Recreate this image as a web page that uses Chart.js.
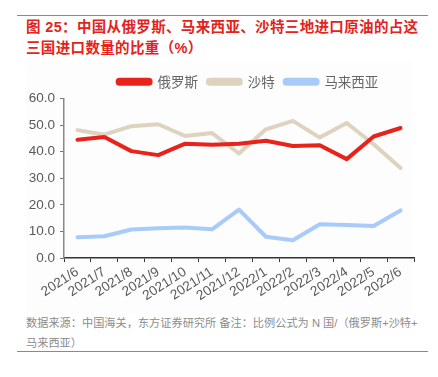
<!DOCTYPE html>
<html>
<head>
<meta charset="utf-8">
<script src="https://cdn.jsdelivr.net/npm/chart.js@4"></script>
<style>
	body { margin: 0; background: #fff; font-family: "Liberation Sans", "Noto Sans CJK SC", sans-serif; }
	#wrap { position: relative; width: 438px; height: 377px; }
	.rule { position: absolute; left: 17px; width: 411px; height: 1px; background: #E06666; }
	#title { position: absolute; left: 26px; top: 17px; width: 410px; color: #E3231C; font-size: 14.5px; font-weight: bold; line-height: 21px; letter-spacing: 0.35px; }
	#box { position: absolute; left: 25px; top: 62px; width: 388px; height: 252px; background: #FDFDFD; }
	#chartBox { position: absolute; left: 0; top: 62px; width: 438px; height: 246px; }
	#note { position: absolute; left: 26px; top: 313px; width: 405px; color: #8C8C8C; font-size: 11.2px; line-height: 20px; }
</style>
</head>
<body>
<div id="wrap">
	<div class="rule" style="top:15px"></div>
	<div id="title">图 25：中国从俄罗斯、马来西亚、沙特三地进口原油的占这<br>三国进口数量的比重（%）</div>
	<div id="box"></div>
	<div id="chartBox"><canvas id="mycanvas"></canvas></div>
	<div id="note">数据来源：中国海关，东方证券研究所 备注：比例公式为 N 国/（俄罗斯+沙特+<br>马来西亚）</div>
	<div class="rule" style="top:351px"></div>
</div>
<script>
var months = ['2021/6','2021/7','2021/8','2021/9','2021/10','2021/11','2021/12','2022/1','2022/2','2022/3','2022/4','2022/5','2022/6'];
var russia = [44.5, 45.5, 40.2, 38.7, 43.0, 42.6, 43.0, 44.1, 42.1, 42.4, 37.2, 45.7, 48.9];
var saudi = [48.1, 46.4, 49.6, 50.3, 45.9, 47.0, 39.3, 48.4, 51.6, 45.3, 50.8, 42.8, 33.9];
var malaysia = [7.8, 8.2, 10.7, 11.2, 11.5, 10.8, 18.2, 8.0, 6.7, 12.7, 12.4, 12.0, 17.9];

var ctx = document.getElementById('mycanvas');
Chart.defaults.font.family = '"Liberation Sans", "Noto Sans CJK SC", sans-serif';
Chart.defaults.color = '#595959';

var chartdata = {
	labels: months,
	datasets: [
		{ label: '俄罗斯', data: russia, borderColor: '#E8231C', backgroundColor: '#E8231C' },
		{ label: '沙特', data: saudi, borderColor: '#DDD3BE', backgroundColor: '#DDD3BE' },
		{ label: '马来西亚', data: malaysia, borderColor: '#A8CBFA', backgroundColor: '#A8CBFA' }
	]
};

// centre the legend over the plot area instead of the whole canvas
var legendShift = {
	id: 'legendShift',
	beforeDraw: function(chart) {
		var l = chart.legend;
		l.left = chart.chartArea.left + 9;
		l.right = chart.chartArea.right + 9;
	}
};

new Chart(ctx, {
	type: 'line',
	data: chartdata,
	plugins: [legendShift],
	options: {
		responsive: true,
		maintainAspectRatio: false,
		animation: false,
		layout: { padding: { left: 0, right: 24, top: 3, bottom: 0 } },
		elements: {
			line: { borderWidth: 4, tension: 0, borderCapStyle: 'round', borderJoinStyle: 'round' },
			point: { radius: 0 }
		},
		plugins: {
			legend: {
				position: 'top',
				labels: {
					boxWidth: 33, boxHeight: 4, useBorderRadius: true, borderRadius: 2,
					font: { size: 13.5, family: '"Noto Sans CJK SC", sans-serif' }, color: '#666', padding: 10
				}
			},
			tooltip: { enabled: false }
		},
		scales: {
			x: {
				offset: true,
				afterFit: function(scale) { scale.height = 50; },
				grid: { display: true, drawOnChartArea: false, offset: true, tickLength: 4, color: '#333' },
				border: { color: '#333', width: 1.5 },
				ticks: { maxRotation: 33, minRotation: 33, font: { size: 13.5 }, color: '#595959', padding: 2, autoSkip: false }
			},
			y: {
				min: 0, max: 60,
				afterFit: function(scale) { scale.width = 64; },
				grid: { display: true, drawOnChartArea: false, tickLength: 4, color: '#777' },
				border: { color: '#888', width: 1.5 },
				ticks: { stepSize: 10, font: { size: 13.5 }, color: '#595959', padding: 5,
					callback: function(v) { return v.toFixed(1); } }
			}
		}
	}
});
</script>
</body>
</html>
